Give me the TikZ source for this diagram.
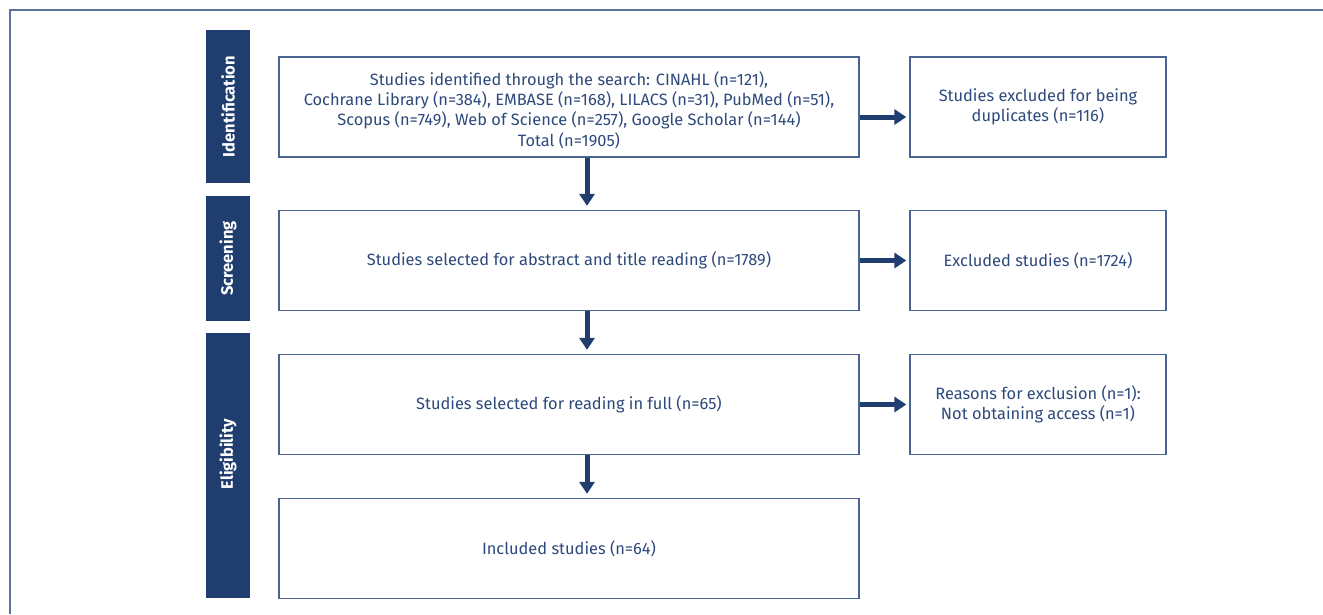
\documentclass[tikz,border=0pt]{standalone}
\usepackage{fontspec}
\setmainfont{Fira Sans}
\usetikzlibrary{arrows.meta}
\definecolor{navy}{HTML}{1F3D6E}
\definecolor{framec}{HTML}{5C7399}
\definecolor{boxc}{HTML}{4A6491}
\definecolor{txtc}{HTML}{2E4A7C}
\tikzset{
  box/.style={draw=boxc, line width=1.3pt, fill=white, minimum width=580pt, minimum height=100pt, inner sep=0pt, align=center, text=txtc, font=\fontsize{16.4}{20.3}\selectfont},
  sidebox/.style={box, minimum width=256pt},
  phase/.style={fill=navy, minimum width=44pt, inner sep=0pt, text=white, font=\fontsize{16.5}{18}\selectfont\bfseries},
  flow/.style={draw=navy, line width=5pt, -{Triangle[width=15pt,length=12pt]}},
}
\begin{document}
\begin{tikzpicture}[x=1pt,y=-1pt]
\useasboundingbox (0,0) rectangle (1323,614);
\draw[framec, line width=1.5pt] (10,614) -- (10,10) -- (1323,10);
% phases
\node[phase, minimum height=153pt] (pid) at (228,106.5) {\rotatebox{90}{Identification}};
\node[phase, minimum height=125pt] (psc) at (228,258.5) {\rotatebox{90}{Screening}};
\node[phase, minimum height=265pt] (pel) at (228,465.5) {};
\node[text=white, font=\fontsize{16.5}{18}\selectfont\bfseries, inner sep=0pt] (pell) at (228,454) {\rotatebox{90}{Eligibility}};
% main boxes
\node[box] (b1) at (569,107) {};
\node[align=center, text=txtc, font=\fontsize{16.4}{20.3}\selectfont, inner sep=0pt] (b1t) at (569,110) {Studies identified through the search: CINAHL (n=121),\\Cochrane Library (n=384), EMBASE (n=168), LILACS (n=31), PubMed (n=51),\\Scopus (n=749), Web of Science (n=257), Google Scholar (n=144)\\Total (n=1905)};
\node[box] (b2) at (569,260.5) {Studies selected for abstract and title reading (n=1789)};
\node[box] (b3) at (569,404.5) {Studies selected for reading in full (n=65)};
\node[box] (b4) at (569,548.5) {Included studies (n=64)};
% side boxes
\node[sidebox] (s1) at (1038,107) {Studies excluded for being\\duplicates (n=116)};
\node[sidebox] (s2) at (1038,260.5) {Excluded studies (n=1724)};
\node[sidebox] (s3) at (1038,404.5) {Reasons for exclusion (n=1):\\Not obtaining access (n=1)};
% arrows
\draw[flow] ([xshift=18pt]b1.south) -- ([xshift=18pt,yshift=4pt]b2.north);
\draw[flow] ([xshift=18pt]b2.south) -- ([xshift=18pt,yshift=4pt]b3.north);
\draw[flow] ([xshift=18pt]b3.south) -- ([xshift=18pt,yshift=4pt]b4.north);
\draw[flow] ([yshift=-10pt]b1.east) -- ([xshift=-3pt,yshift=-10pt]s1.west);
\draw[flow] (b2.east) -- ([xshift=-3pt]s2.west);
\draw[flow] (b3.east) -- ([xshift=-3pt]s3.west);
\end{tikzpicture}
\end{document}
